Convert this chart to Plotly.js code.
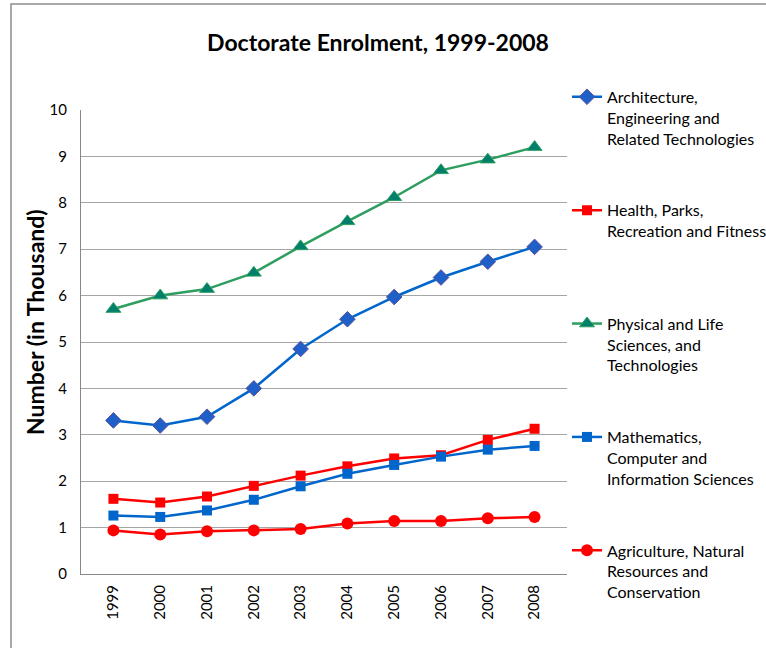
<!DOCTYPE html>
<html><head><meta charset="utf-8">
<script src="https://cdn.plot.ly/plotly-3.0.1.min.js"></script>
<style>html,body{margin:0;padding:0;background:#fff;}#chart{width:766px;height:648px;}</style>
</head><body><div id="chart"></div>
<script>
const years = ["1999","2000","2001","2002","2003","2004","2005","2006","2007","2008"];
const architecture = [3.31, 3.20, 3.39, 4.00, 4.85, 5.49, 5.97, 6.39, 6.73, 7.05];
const health = [1.62, 1.54, 1.67, 1.90, 2.12, 2.32, 2.49, 2.56, 2.89, 3.13];
const physical = [5.71, 6.00, 6.14, 6.49, 7.06, 7.60, 8.12, 8.70, 8.93, 9.20];
const mathematics = [1.26, 1.23, 1.37, 1.60, 1.89, 2.16, 2.35, 2.53, 2.68, 2.76];
const agriculture = [0.94, 0.85, 0.92, 0.94, 0.97, 1.09, 1.14, 1.14, 1.20, 1.23];
const names = [
  "Architecture,<br>Engineering and<br>Related Technologies",
  "Health, Parks,<br>Recreation and Fitness<br>&nbsp;",
  "Physical and Life<br>Sciences, and<br>Technologies",
  "Mathematics,<br>Computer and<br>Information Sciences",
  "Agriculture, Natural<br>Resources and<br>Conservation"
];
const FONT = "Lato, 'Open Sans', sans-serif";
const traces = [
  {y: architecture, name: names[0], line:{color:'#0066CC', width:2.5},
   marker:{symbol:'diamond', size:12, color:'#1F5FC8', line:{color:'#5A4F9A', width:1}}},
  {y: health, name: names[1], line:{color:'#FF0000', width:2.5},
   marker:{symbol:'square', size:10, color:'#FF0000'}},
  {y: physical, name: names[2], line:{color:'#2E9E60', width:2.5},
   marker:{symbol:'triangle-up', size:13, color:'#00806A', line:{color:'#2E9E60', width:1}}},
  {y: mathematics, name: names[3], line:{color:'#0066CC', width:2.5},
   marker:{symbol:'square', size:10, color:'#0066CC'}},
  {y: agriculture, name: names[4], line:{color:'#FF0000', width:2.5},
   marker:{symbol:'circle', size:12, color:'#FF0000'}}
].map((t,i)=>Object.assign({x: years, type:'scatter', mode:'lines+markers', legendgroup:'g'+i}, t));

const layout = {
  width:766, height:648,
  margin:{l:81, r:199, t:110, b:74, autoexpand:false},
  paper_bgcolor:'#fff', plot_bgcolor:'#fff',
  font:{family:FONT, size:15, color:'#000'},
  title:{text:'<b>Doctorate Enrolment, 1999-2008</b>', font:{family:FONT, size:23, color:'#000'},
         x:378/766, xref:'container', xanchor:'center', y:1-43/648, yref:'container', yanchor:'middle'},
  xaxis:{type:'category', tickangle:-90, showgrid:false, showline:true, linecolor:'#888', linewidth:1,
         ticks:'', tickfont:{family:FONT, size:15}, zeroline:false, fixedrange:true, ticklabelstandoff:4},
  yaxis:{range:[0,10], dtick:1, showgrid:true, gridcolor:'#A6A6A6', gridwidth:1, showline:true,
         linecolor:'#888', linewidth:1, zeroline:false, ticks:'', tickfont:{family:FONT, size:15},
         fixedrange:true, ticklabelstandoff:10},
  showlegend:true,
  legend:{x:1.0, xanchor:'left', y:1.065, yanchor:'top', valign:'top', tracegroupgap:48, maxheight:640,
          font:{family:FONT, size:16, color:'#000'}, bgcolor:'rgba(0,0,0,0)'},
  annotations:[{text:'<b>Number (in Thousand)</b>', textangle:-90, xref:'paper', yref:'paper',
    x:(35-81)/486, y:(574-322)/464, xanchor:'center', yanchor:'middle', showarrow:false,
    font:{family:FONT, size:23, color:'#000'}}],
  shapes:[{type:'rect', xref:'paper', yref:'paper', x0:(11-81)/486, x1:(900-81)/486,
    y0:(574-800)/464, y1:(574-4)/464, line:{color:'#8C8C8C', width:1.5}, fillcolor:'rgba(0,0,0,0)'}]
};
Plotly.newPlot('chart', traces, layout, {displayModeBar:false, staticPlot:true});
</script></body></html>
